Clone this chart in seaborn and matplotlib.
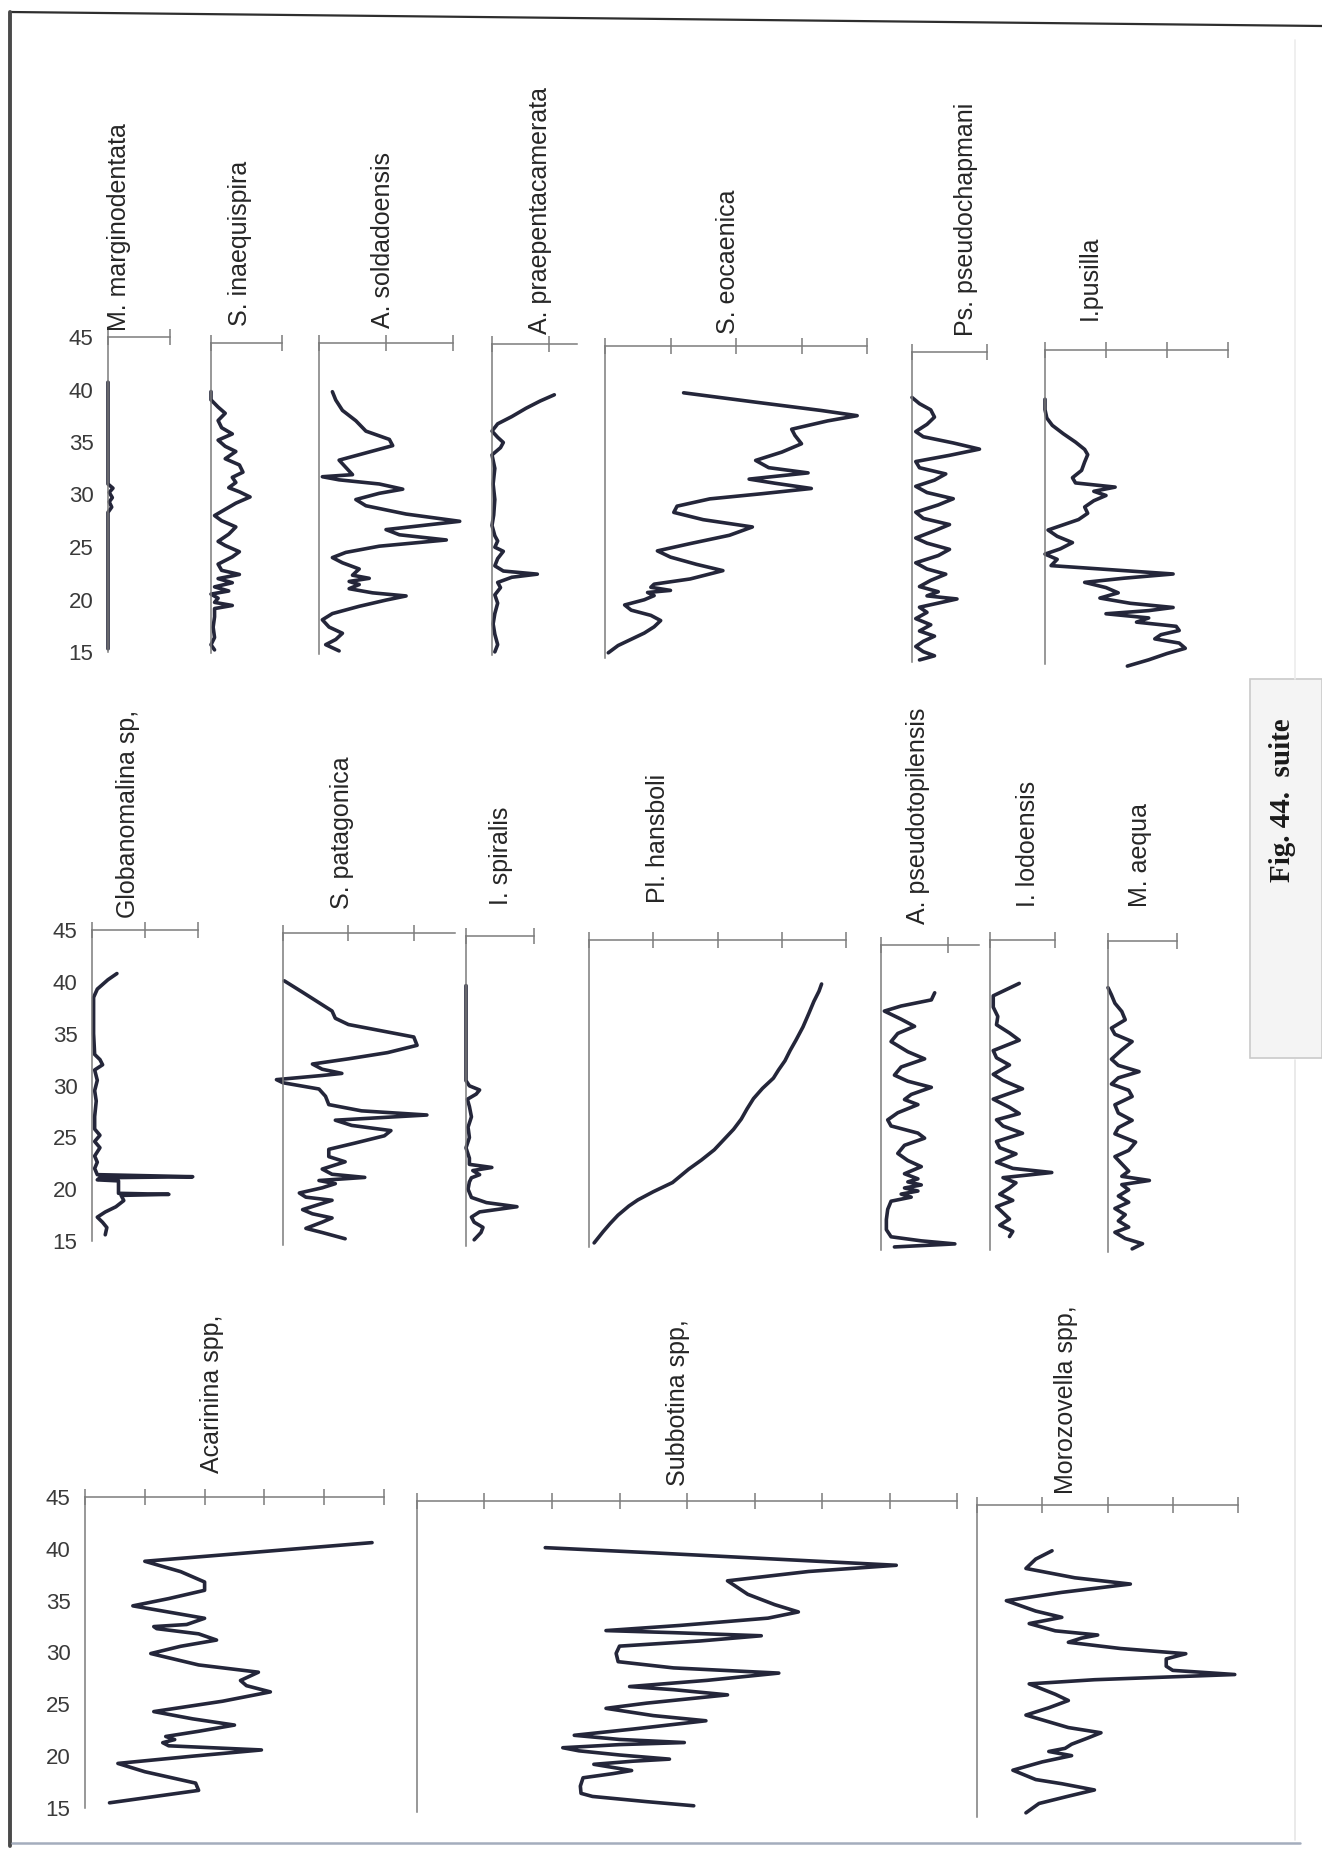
import matplotlib
matplotlib.use("Agg")
import matplotlib.pyplot as plt
import seaborn as sns
from matplotlib.lines import Line2D
from matplotlib.patches import Rectangle

# Foraminifera abundance logs (Fig. 44 suite), redrawn from the scanned plate

sns.set_theme(style="white")
plt.rcParams['font.family'] = ['Liberation Sans', 'DejaVu Sans']

W, H = 1322, 1852
CURVE = '#24263a'
AXIS = '#7c7c7c'

depth_ticks = [15, 20, 25, 30, 35, 40, 45]

# ---- row 1 ----
mmarg_lvl = [15.3, 20.0, 25.0, 28.3, 28.8, 29.3, 29.7, 30.2, 30.6, 31.0, 35.0, 40.7]
mmarg_val = [0.0, 0.0, 0.0, 0.0, 0.06, 0.02, 0.07, 0.02, 0.08, 0.0, 0.0, 0.0]

sinaeq_lvl = [15.3, 15.8, 16.5, 17.5, 18.5, 19.3, 19.6, 19.9, 20.3, 20.7, 21.0, 21.4, 21.8, 22.2,
              22.6, 23.0, 23.6, 24.3, 24.8, 25.4, 25.8, 26.5, 27.2, 27.8, 28.3, 28.9, 29.5, 30.1,
              30.6, 31.0, 31.5, 32.0, 32.5, 33.2, 33.8, 34.5, 35.0, 35.6, 36.2, 36.8, 37.5, 38.2,
              38.8, 39.5, 40.3]
sinaeq_val = [0.05, 0.0, 0.05, 0.03, 0.05, 0.05, 0.3, 0.05, 0.1, 0.0, 0.25, 0.05, 0.3, 0.1,
              0.4, 0.15, 0.1, 0.3, 0.4, 0.2, 0.1, 0.25, 0.35, 0.15, 0.05, 0.2, 0.35, 0.55,
              0.4, 0.25, 0.35, 0.3, 0.45, 0.4, 0.2, 0.35, 0.2, 0.1, 0.3, 0.15, 0.1, 0.2,
              0.1, 0.0, 0.0]

asold_lvl = [15.3, 15.9, 16.4, 17.0, 17.6, 18.3, 18.9, 19.6, 20.2, 20.6, 20.9, 21.3, 21.7, 22.0,
             22.3, 22.6, 23.2, 23.8, 24.3, 24.8, 25.4, 26.0, 26.5, 27.0, 27.8, 28.5, 29.3, 29.9,
             30.5, 30.9, 31.4, 31.8, 32.1, 32.3, 33.0, 33.7, 34.4, 35.1, 35.7, 36.5, 37.5, 38.5,
             39.5, 40.3]
asold_val = [0.3, 0.1, 0.25, 0.35, 0.15, 0.05, 0.2, 0.6, 1.0, 1.3, 0.8, 0.45, 0.6, 0.45,
             0.75, 0.5, 0.6, 0.35, 0.2, 0.4, 0.9, 1.9, 1.2, 1.0, 2.1, 1.3, 0.7, 0.55,
             0.9, 1.25, 0.9, 0.3, 0.05, 0.5, 0.4, 0.3, 0.7, 1.1, 1.05, 0.7, 0.55, 0.35,
             0.25, 0.2]

aprae_lvl = [15.3, 16.0, 17.0, 18.0, 19.0, 20.0, 20.8, 21.5, 22.0, 22.5, 22.8, 23.1, 23.6, 24.3,
             25.0, 25.4, 26.0, 26.5, 27.5, 28.5, 30.0, 31.5, 33.0, 34.3, 35.0, 35.5, 36.0, 36.6,
             37.3, 38.0, 38.8, 39.5, 40.1]
aprae_val = [0.05, 0.1, 0.05, 0.02, 0.05, 0.1, 0.05, 0.15, 0.1, 0.35, 0.8, 0.2, 0.05, 0.1,
             0.2, 0.05, 0.1, 0.05, 0.0, 0.03, 0.05, 0.02, 0.05, 0.0, 0.15, 0.2, 0.1, 0.0,
             0.1, 0.35, 0.6, 0.85, 1.1]

seoc_lvl = [15.5, 16.2, 16.8, 17.4, 18.0, 18.6, 19.1, 19.6, 20.1, 20.6, 21.0, 21.3, 21.5, 21.8,
            22.1, 22.6, 23.4, 24.0, 24.7, 25.3, 26.0, 26.8, 27.6, 28.3, 29.0, 29.6, 30.3, 30.8,
            31.3, 31.8, 32.2, 32.8, 33.3, 34.0, 34.8, 35.6, 36.4, 37.0, 37.8, 38.3, 38.8, 39.6,
            40.5]
seoc_val = [0.05, 0.2, 0.4, 0.6, 0.75, 0.85, 0.7, 0.4, 0.3, 0.6, 0.75, 0.65, 1.0, 0.7,
            0.75, 1.3, 1.8, 1.4, 1.0, 0.8, 1.3, 1.9, 2.25, 1.5, 1.05, 1.1, 1.6, 2.4,
            3.15, 2.6, 2.2, 3.1, 2.5, 2.3, 2.7, 3.0, 2.9, 2.85, 3.4, 3.85, 3.3, 2.3,
            1.2]

pspseu_lvl = [15.2, 15.6, 16.0, 16.5, 17.0, 17.5, 18.0, 18.6, 19.2, 19.8, 20.3, 20.7, 21.1, 21.4,
              21.8, 22.3, 22.9, 23.5, 24.0, 24.6, 25.3, 25.9, 26.5, 27.0, 27.7, 28.3, 28.9, 29.5,
              30.2, 30.8, 31.4, 32.0, 32.6, 33.2, 33.8, 34.4, 35.0, 35.6, 36.2, 36.8, 37.3, 38.0,
              38.7, 39.4, 40.0, 40.6]
pspseu_val = [0.1, 0.3, 0.15, 0.05, 0.15, 0.3, 0.1, 0.25, 0.05, 0.2, 0.1, 0.35, 0.6, 0.2,
              0.35, 0.1, 0.25, 0.45, 0.2, 0.05, 0.35, 0.5, 0.2, 0.05, 0.3, 0.5, 0.15, 0.05,
              0.35, 0.55, 0.2, 0.05, 0.3, 0.45, 0.1, 0.05, 0.5, 0.9, 0.55, 0.15, 0.05, 0.2,
              0.3, 0.25, 0.1, 0.0]

ipus_lvl = [14.8, 15.4, 16.0, 16.5, 17.0, 17.4, 17.8, 18.2, 18.6, 19.0, 19.4, 19.8, 20.1, 20.4,
            20.8, 21.3, 21.8, 22.3, 22.8, 23.2, 23.6, 24.0, 24.4, 25.0, 25.5, 26.0, 26.6, 27.2,
            27.8, 28.3, 28.8, 29.4, 30.0, 30.6, 31.1, 31.5, 31.9, 32.3, 32.8, 33.5, 34.3, 35.0,
            35.5, 36.2, 37.0, 37.8, 38.5, 39.3, 40.3]
ipus_val = [1.35, 1.7, 2.0, 2.3, 2.2, 1.8, 1.9, 2.2, 2.15, 1.5, 1.7, 1.0, 1.7, 2.1,
            1.4, 0.9, 1.2, 1.0, 0.65, 1.3, 2.1, 1.1, 0.1, 0.2, 0.0, 0.25, 0.45, 0.2,
            0.05, 0.3, 0.55, 0.7, 0.65, 0.8, 1.0, 0.8, 1.15, 0.5, 0.45, 0.6, 0.65, 0.7,
            0.65, 0.5, 0.3, 0.12, 0.03, 0.0, 0.0]

# ---- row 2 ----
glob_lvl = [15.6, 16.3, 16.8, 17.3, 17.8, 18.3, 18.9, 19.4, 19.5, 19.6, 20.3, 20.8, 20.9, 21.1,
            21.2, 21.4, 22.0, 22.6, 23.2, 24.0, 24.6, 25.2, 25.8, 27.0, 28.5, 29.5, 30.5, 31.5,
            32.0, 32.5, 33.0, 35.0, 37.0, 38.5, 39.3, 40.2, 40.8]
glob_val = [0.25, 0.28, 0.2, 0.1, 0.25, 0.45, 0.6, 0.55, 1.45, 0.5, 0.5, 0.5, 0.1, 0.15,
            1.9, 0.1, 0.05, 0.1, 0.05, 0.15, 0.05, 0.15, 0.05, 0.05, 0.08, 0.05, 0.1, 0.05,
            0.2, 0.15, 0.05, 0.03, 0.03, 0.03, 0.1, 0.3, 0.47]

spat_lvl = [15.6, 16.2, 16.6, 17.2, 17.6, 18.0, 18.4, 18.9, 19.3, 19.6, 20.0, 20.5, 20.9, 21.2,
            21.5, 21.8, 22.3, 23.0, 23.5, 24.2, 24.8, 25.5, 26.0, 26.5, 27.0, 27.5, 27.9, 28.5,
            29.3, 30.0, 30.6, 30.9, 31.3, 31.5, 31.9, 32.4, 32.9, 33.5, 34.2, 35.0, 35.6, 36.2,
            36.8, 37.5, 38.3, 39.3, 40.4]
spat_val = [0.95, 0.6, 0.35, 0.6, 0.75, 0.45, 0.3, 0.55, 0.75, 0.35, 0.25, 0.6, 0.8, 0.55,
            1.25, 0.75, 0.6, 0.95, 0.7, 0.7, 1.1, 1.55, 1.65, 1.05, 0.8, 2.2, 1.2, 0.7,
            0.65, 0.55, 0.0, -0.1, 0.6, 0.9, 0.6, 0.45, 1.0, 1.6, 2.05, 2.0, 1.5, 1.0,
            0.8, 0.75, 0.55, 0.3, 0.02]

ispir_lvl = [15.6, 16.3, 16.8, 17.3, 17.8, 18.3, 18.8, 19.2, 19.7, 20.5, 21.2, 21.6, 21.9, 22.3,
             22.6, 22.9, 23.5, 24.5, 25.5, 26.5, 27.5, 28.5, 29.2, 29.7, 30.1, 30.5, 31.0, 35.0,
             40.2]
ispir_val = [0.12, 0.22, 0.25, 0.12, 0.08, 0.2, 0.75, 0.3, 0.08, 0.03, 0.05, 0.08, 0.2, 0.1,
             0.38, 0.05, 0.05, 0.0, 0.05, 0.03, 0.08, 0.05, 0.02, 0.15, 0.2, 0.05, 0.0, 0.0,
             0.0]

plhan_lvl = [15.4, 16.5, 17.3, 18.1, 19.0, 19.6, 20.4, 21.3, 22.6, 23.5, 24.5, 25.5, 26.5, 27.5,
             28.5, 29.5, 30.5, 31.5, 32.3, 33.2, 34.2, 35.2, 36.5, 37.8, 39.0, 40.0, 40.7]
plhan_val = [0.08, 0.22, 0.33, 0.45, 0.62, 0.76, 1.0, 1.3, 1.55, 1.75, 1.95, 2.1, 2.25, 2.37,
             2.46, 2.56, 2.7, 2.87, 2.95, 3.05, 3.13, 3.22, 3.33, 3.42, 3.5, 3.58, 3.62]

apseu_lvl = [15.3, 15.6, 15.9, 16.3, 17.0, 18.0, 19.0, 19.8, 20.2, 20.5, 20.8, 21.1, 21.4, 21.7,
             22.0, 22.5, 23.2, 23.8, 24.5, 25.3, 26.0, 26.5, 27.2, 27.8, 28.5, 29.3, 29.8, 30.3,
             31.0, 31.6, 32.2, 33.0, 33.8, 34.5, 35.5, 36.3, 37.0, 37.7, 38.5, 39.0, 39.6, 40.3]
apseu_val = [0.2, 1.1, 0.6, 0.15, 0.08, 0.08, 0.1, 0.15, 0.45, 0.3, 0.55, 0.35, 0.6, 0.4,
             0.55, 0.35, 0.6, 0.4, 0.25, 0.35, 0.65, 0.55, 0.15, 0.1, 0.25, 0.55, 0.35, 0.45,
             0.75, 0.4, 0.2, 0.3, 0.65, 0.4, 0.15, 0.25, 0.5, 0.3, 0.05, 0.3, 0.75, 0.8]

ilod_lvl = [16.3, 16.8, 17.4, 18.0, 18.6, 19.2, 19.8, 20.4, 21.0, 21.5, 22.0, 22.5, 22.9, 23.5,
            24.3, 24.9, 25.5, 26.3, 27.0, 27.6, 28.2, 28.8, 29.6, 30.6, 31.4, 32.0, 32.9, 33.6,
            34.3, 35.3, 36.0, 36.8, 37.6, 38.5, 39.6, 40.2, 40.8]
ilod_val = [0.3, 0.35, 0.15, 0.3, 0.2, 0.1, 0.35, 0.15, 0.3, 0.4, 0.2, 0.95, 0.35, 0.1,
            0.4, 0.15, 0.1, 0.5, 0.2, 0.1, 0.45, 0.3, 0.05, 0.5, 0.2, 0.05, 0.3, 0.1,
            0.05, 0.45, 0.3, 0.1, 0.12, 0.05, 0.05, 0.25, 0.45]

maeq_lvl = [15.3, 15.8, 16.3, 16.9, 17.4, 18.0, 18.6, 19.2, 19.8, 20.4, 21.0, 21.5, 21.9, 22.3,
            22.8, 23.5, 24.2, 24.8, 25.6, 26.4, 27.0, 27.7, 28.4, 29.2, 30.0, 30.6, 31.2, 31.8,
            32.4, 33.0, 33.6, 34.5, 35.3, 36.0, 36.6, 37.4, 38.2, 39.0, 39.8, 40.5]
maeq_val = [0.35, 0.5, 0.25, 0.1, 0.3, 0.15, 0.25, 0.1, 0.3, 0.15, 0.3, 0.2, 0.6, 0.2,
            0.3, 0.2, 0.1, 0.3, 0.4, 0.1, 0.15, 0.35, 0.15, 0.1, 0.35, 0.3, 0.05, 0.15,
            0.45, 0.15, 0.05, 0.2, 0.35, 0.1, 0.05, 0.25, 0.2, 0.1, 0.05, 0.0]

# ---- row 3 ----
acar_lvl = [15.5, 16.7, 17.4, 18.5, 19.3, 20.0, 20.6, 21.0, 21.3, 21.6, 21.9, 22.4, 23.0, 23.6,
            24.3, 25.3, 26.2, 26.8, 27.3, 28.1, 28.8, 29.9, 30.6, 31.2, 31.8, 32.3, 32.5, 32.7,
            33.3, 34.0, 34.5, 35.2, 36.0, 36.8, 37.8, 38.8, 39.5, 40.1, 40.6]
acar_val = [0.41, 1.9, 1.85, 1.0, 0.55, 1.8, 2.95, 1.4, 1.3, 1.5, 1.35, 1.9, 2.5, 1.8,
            1.15, 2.3, 3.1, 2.7, 2.6, 2.9, 1.9, 1.1, 1.6, 2.2, 1.9, 1.2, 1.15, 1.7,
            2.0, 1.3, 0.8, 1.4, 2.0, 2.0, 1.6, 1.0, 2.48, 3.74, 4.8]

subb_lvl = [15.6, 16.0, 16.5, 16.8, 17.5, 18.3, 18.7, 19.0, 19.3, 19.6, 19.9, 20.1, 20.5, 20.9,
            21.2, 21.5, 21.7, 22.0, 22.4, 23.0, 23.8, 24.3, 25.0, 25.5, 26.3, 26.8, 27.1, 27.7,
            28.4, 28.9, 29.5, 30.3, 31.0, 31.5, 32.0, 32.3, 32.5, 33.0, 33.7, 34.3, 35.0, 36.0,
            37.3, 38.2, 38.8, 39.3, 40.0, 40.5]
subb_val = [4.1, 3.4, 2.6, 2.43, 2.42, 2.46, 2.9, 3.18, 2.9, 2.62, 3.2, 3.74, 3.0, 2.4,
            2.16, 3.0, 3.96, 3.0, 2.33, 3.2, 4.28, 3.5, 2.8, 3.4, 4.6, 3.8, 3.15, 4.3,
            5.36, 3.8, 2.98, 2.95, 3.0, 4.2, 5.1, 3.8, 2.8, 3.9, 5.2, 5.65, 5.3, 4.9,
            4.6, 5.8, 7.1, 5.6, 3.5, 1.9]

moro_lvl = [15.4, 16.3, 17.0, 17.6, 18.2, 18.6, 19.5, 20.3, 20.9, 21.3, 21.6, 22.0, 22.6, 23.1,
            23.6, 24.8, 25.5, 26.2, 26.8, 27.8, 28.2, 28.7, 29.1, 29.5, 30.2, 30.7, 31.2, 31.8,
            32.2, 32.5, 32.9, 33.6, 34.2, 34.8, 35.8, 36.6, 37.4, 38.0, 38.9, 39.8, 40.6]
moro_val = [0.75, 0.95, 1.4, 1.8, 1.3, 0.9, 0.55, 1.0, 1.45, 1.1, 1.35, 1.45, 1.7, 1.9,
            1.4, 0.75, 1.1, 1.4, 1.2, 0.8, 1.8, 3.95, 3.0, 2.9, 2.9, 3.2, 2.2, 1.4,
            1.6, 1.85, 1.2, 0.8, 1.3, 0.9, 0.45, 1.3, 2.35, 1.5, 0.75, 0.9, 1.15]

# panel layout in pixels: spine x, axis end x, top (45) y, bottom (15) y
layout = [
    # name, levels, values, box, xmax, xticks, title (x centre, y bottom), y labels
    ("M. marginodentata", mmarg_lvl, mmarg_val, (108, 170, 337, 652), 1, [0, 1], (119, 331), True),
    ("S. inaequispira", sinaeq_lvl, sinaeq_val, (211, 282, 343, 653), 1, [0, 1], (240, 326), False),
    ("A. soldadoensis", asold_lvl, asold_val, (319, 453, 343, 654), 2, [0, 1, 2], (383, 328), False),
    ("A. praepentacamerata", aprae_lvl, aprae_val, (492, 577, 344, 655), 1.5, [0, 1], (540, 334), False),
    ("S. eocaenica", seoc_lvl, seoc_val, (605, 867, 346, 658), 4, [0, 1, 2, 3, 4], (728, 334), False),
    ("Ps. pseudochapmani", pspseu_lvl, pspseu_val, (912, 987, 352, 662), 1, [0, 1], (966, 336), False),
    ("I.pusilla", ipus_lvl, ipus_val, (1045, 1228, 350, 664), 3, [0, 1, 2, 3], (1090, 320), False),
    ("Globanomalina sp,", glob_lvl, glob_val, (92, 198, 930, 1241), 2, [0, 1, 2], (128, 918), True),
    ("S. patagonica", spat_lvl, spat_val, (283, 455, 933, 1245), 2.63, [0, 1, 2], (342, 909), False),
    ("I. spiralis", ispir_lvl, ispir_val, (466, 534, 936, 1246), 1, [0, 1], (501, 905), False),
    ("Pl. hansboli", plhan_lvl, plhan_val, (589, 846, 940, 1247), 4, [0, 1, 2, 3, 4], (658, 903), False),
    ("A. pseudotopilensis", apseu_lvl, apseu_val, (881, 979, 945, 1250), 1.46, [0, 1], (918, 924), False),
    ("I. lodoensis", ilod_lvl, ilod_val, (990, 1055, 940, 1250), 1, [0, 1], (1028, 907), False),
    ("M. aequa", maeq_lvl, maeq_val, (1108, 1177, 941, 1252), 1, [0, 1], (1140, 907), False),
    ("Acarinina spp,", acar_lvl, acar_val, (85, 384, 1497, 1808), 5, [0, 1, 2, 3, 4, 5], (212, 1473), True),
    ("Subbotina spp,", subb_lvl, subb_val, (417, 957, 1501, 1812), 8, list(range(9)), (678, 1486), False),
    ("Morozovella spp,", moro_lvl, moro_val, (977, 1238, 1505, 1817), 4, [0, 1, 2, 3, 4], (1066, 1494), False),
]


def fx(px):
    return px / W


def fy(py):
    return 1 - py / H


fig = plt.figure(figsize=(W / 100, H / 100), dpi=100)
fig.patch.set_facecolor('white')

# page frame of the scan
fig.add_artist(Line2D([fx(10), fx(1322)], [fy(12), fy(26)], color='#2e2e2e', lw=1.6))
fig.add_artist(Line2D([fx(10), fx(10)], [fy(12), fy(1846)], color='#4a4a4a', lw=2.8))
fig.add_artist(Line2D([fx(12), fx(1300)], [fy(1843), fy(1843)], color='#a4adbd', lw=1.8))
fig.add_artist(Line2D([fx(1295), fx(1295)], [fy(40), fy(679)], color='#ececec', lw=1.2))
fig.add_artist(Line2D([fx(1295), fx(1295)], [fy(1060), fy(1840)], color='#e6e6e6', lw=1.2))
fig.add_artist(Rectangle((fx(1250), fy(1058)), (1322 - 1250) / W, (1058 - 679) / H,
                         transform=fig.transFigure, facecolor='#f4f4f4', edgecolor='#cacaca', lw=1.2))
fig.text(fx(1283), fy(882), "Fig. 44.  suite", rotation=90, ha='center', va='bottom',
         fontsize=21, fontweight='bold', family=['Liberation Serif', 'DejaVu Serif'], color='#1a1a1a')

for name, lvl, val, box, xmax, xticks, tpos, show_labels in layout:
    L, R, T, B = box
    ax = fig.add_axes([fx(L), fy(B), (R - L) / W, (B - T) / H])
    ax.set_facecolor('none')
    sns.lineplot(x=val, y=lvl, sort=False, estimator=None, color=CURVE, lw=2.6, ax=ax)
    for ln in ax.lines:
        ln.set_clip_on(False)
        ln.set_solid_joinstyle('round')
        ln.set_solid_capstyle('round')
    ax.set_xlim(0, xmax)
    ax.set_ylim(15, 45)
    ax.spines['right'].set_visible(False)
    ax.spines['bottom'].set_visible(False)
    for side in ('left', 'top'):
        ax.spines[side].set_color(AXIS)
        ax.spines[side].set_linewidth(1.1)
    ax.xaxis.tick_top()
    ax.set_xticks(xticks)
    ax.set_xticklabels([])
    ax.set_yticks(depth_ticks)
    if show_labels:
        ax.set_yticklabels([str(t) for t in depth_ticks])
    else:
        ax.set_yticklabels([])
    ax.tick_params(axis='both', direction='inout', length=11, width=1.1, color=AXIS,
                   labelsize=16, labelcolor='#3a3a3a', pad=5)
    ax.set_xlabel('')
    ax.set_ylabel('')
    fig.text(fx(tpos[0]), fy(tpos[1]), name, rotation=90, ha='center', va='bottom',
             fontsize=18, color='#262626')

fig.savefig('out.png', dpi=100, facecolor='white')
